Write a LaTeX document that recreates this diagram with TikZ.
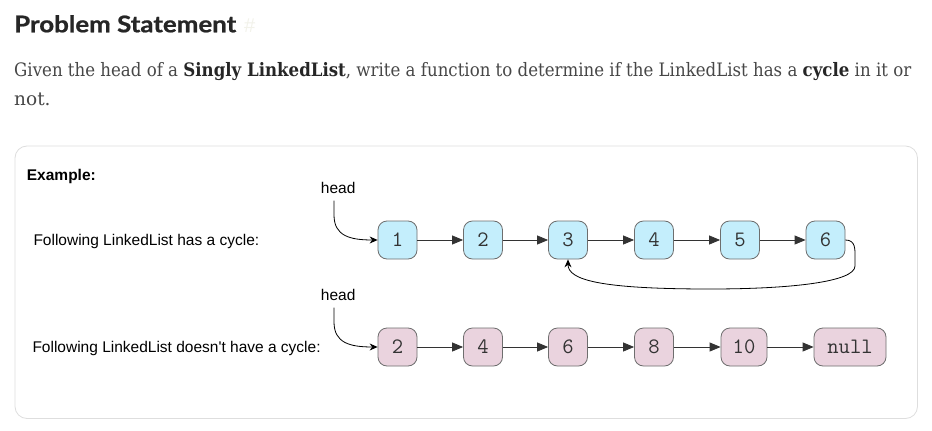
\documentclass[tikz,border=0pt]{standalone}
\usepackage{fontspec}
\usepackage{graphicx}
\usetikzlibrary{arrows.meta}
\newfontfamily\sansf{Liberation Sans}
\newfontfamily\serf{DejaVu Serif}
\newfontfamily\titlef[FakeBold=0.8]{Lato}
\definecolor{bluefill}{HTML}{C4EEFC}
\definecolor{pinkfill}{HTML}{EAD3DE}
\definecolor{nodeline}{HTML}{6E6E6E}
\definecolor{edgecol}{HTML}{333333}
\definecolor{textgray}{HTML}{474747}
\definecolor{titlecol}{HTML}{262626}
\definecolor{boxline}{HTML}{DEDEDE}
\definecolor{hashcol}{HTML}{F2F2EA}
\tikzset{
  lnode/.style={draw=nodeline, line width=0.8pt, rounded corners=9pt, minimum width=39pt, minimum height=38pt, inner sep=2pt, text=edgecol, font=\ttfamily\fontsize{22}{24}\selectfont},
  bnode/.style={lnode, fill=bluefill},
  pnode/.style={lnode, fill=pinkfill},
  nextarrow/.style={draw=edgecol, line width=0.8pt, -{Triangle[length=11pt,width=9pt]}},
  headarrow/.style={draw=black, line width=0.8pt, -{Stealth[length=8pt,width=7pt]}},
  lbl/.style={font=\sansf\fontsize{15.5}{18}\selectfont, inner sep=0pt, anchor=base west, text=black}
}
\begin{document}
\begin{tikzpicture}[x=1pt,y=-1pt]
\useasboundingbox[fill=white] (0,0) rectangle (932,431);
% heading
\node[anchor=base west, inner sep=0pt, text=titlecol] (title) at (14,32.3) {\resizebox{222pt}{\height}{\titlef\bfseries\fontsize{23}{26}\selectfont Problem Statement}};
\node[anchor=base west, inner sep=0pt, text=hashcol] (hash) at (244,32.3) {\sansf\fontsize{20}{24}\selectfont \#};
\node[anchor=base west, inner sep=0pt, text=textgray] (para1) at (14,76.5) {\resizebox{897pt}{\height}{\serf\fontsize{18.5}{22}\selectfont Given the head of a {\bfseries\color{titlecol}Singly LinkedList}, write a function to determine if the LinkedList has a {\bfseries\color{titlecol}cycle} in it or}};
\node[anchor=base west, inner sep=0pt, text=textgray] (para2) at (14,105.5) {\serf\fontsize{18.5}{22}\selectfont not.};
% example box
\draw[boxline, line width=0.8pt, rounded corners=12pt] (15,146) rectangle (917.5,418.5);
\node[lbl, font=\sansf\bfseries\fontsize{15.5}{18}\selectfont] (example) at (26.7,180.7) {Example:};
\node[lbl] (lab1) at (33.3,245.7) {Following LinkedList has a cycle:};
\node[lbl] (lab2) at (32.3,352.5) {Following LinkedList doesn't have a cycle:};
\node[lbl] (head1) at (320.7,193.3) {head};
\node[lbl] (head2) at (320.7,300) {head};
% list 1
\node[bnode] (a1) at (397.5,240) {1};
\node[bnode] (a2) at (483,240) {2};
\node[bnode] (a3) at (568,240) {3};
\node[bnode] (a4) at (654,240) {4};
\node[bnode] (a5) at (740,240) {5};
\node[bnode] (a6) at (825.5,240) {6};
% list 2
\node[pnode] (b1) at (397.5,347) {2};
\node[pnode] (b2) at (483,347) {4};
\node[pnode] (b3) at (568,347) {6};
\node[pnode] (b4) at (654,347) {8};
\node[pnode, minimum width=46pt] (b5) at (744,347) {10};
\node[pnode, minimum width=72pt] (b6) at (850,347) {null};
% edges
\draw[nextarrow] (a1) -- (a2);
\draw[nextarrow] (a2) -- (a3);
\draw[nextarrow] (a3) -- (a4);
\draw[nextarrow] (a4) -- (a5);
\draw[nextarrow] (a5) -- (a6);
\draw[nextarrow] (b1) -- (b2);
\draw[nextarrow] (b2) -- (b3);
\draw[nextarrow] (b3) -- (b4);
\draw[nextarrow] (b4) -- (b5);
\draw[nextarrow] (b5) -- (b6);
% head pointers
\coordinate (h1s) at (334,200.5);
\coordinate (h2s) at (334,307.5);
\draw[headarrow] (h1s) -- (334,215) .. controls (334,236) and (350,240) .. (a1.west);
\draw[headarrow] (h2s) -- (334,322) .. controls (334,343) and (350,347) .. (b1.west);
% cycle
\draw[headarrow] (a6.east) .. controls (856,240) and (855,250) .. (855,258)
  -- (855,266) .. controls (855,282) and (790,289) .. (710,289)
  .. controls (600,289) and (568,280) .. (a3.south);
\end{tikzpicture}
\end{document}
